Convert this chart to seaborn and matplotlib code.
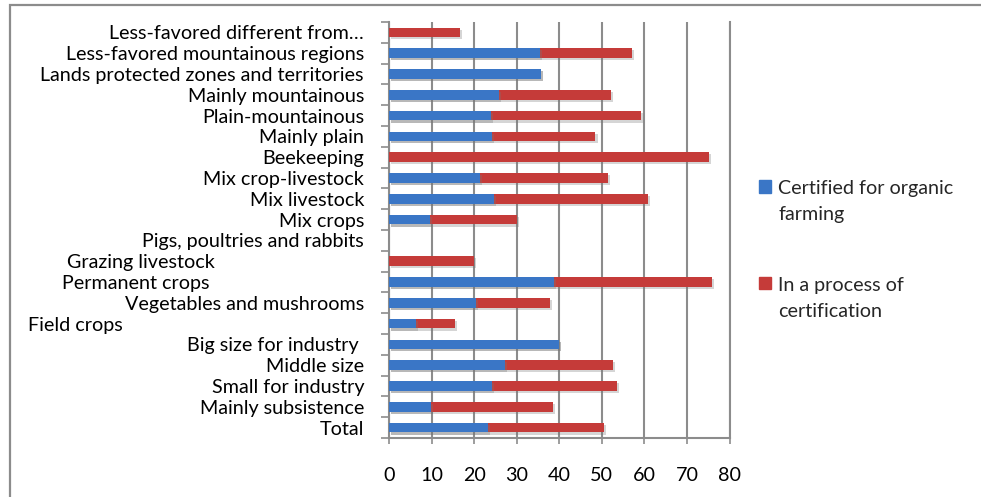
import pandas as pd
import matplotlib.pyplot as plt
import matplotlib.patches as mpatches
import matplotlib.patheffects as pe
from matplotlib.transforms import ScaledTranslation
import seaborn as sns

# Categories from top to bottom of the chart
categories = [
    "Less-favored different from…",
    "Less-favored mountainous regions",
    "Lands protected zones and territories",
    "Mainly mountainous",
    "Plain-mountainous",
    "Mainly plain",
    "Beekeeping",
    "Mix crop-livestock",
    "Mix livestock",
    "Mix crops",
    "Pigs, poultries and rabbits",
    "Grazing livestock",
    "Permanent crops",
    "Vegetables and mushrooms",
    "Field crops",
    "Big size for industry ",
    "Middle size",
    "Small for industry",
    "Mainly subsistence",
    "Total",
]
certified = [0, 35.5, 35.8, 25.9, 24.0, 24.2, 0, 21.4, 24.7, 9.6,
             0, 0, 38.7, 20.5, 6.3, 40.0, 27.3, 24.2, 9.9, 23.2]
in_process = [16.7, 21.6, 0, 26.3, 35.2, 24.3, 75.1, 30.1, 36.2, 20.5,
              0, 20.0, 37.1, 17.4, 9.2, 0, 25.3, 29.4, 28.7, 27.4]
xticks = [0, 10, 20, 30, 40, 50, 60, 70, 80]

label_certified = "Certified for organic\nfarming"
label_process = "In a process of\ncertification"
blue = "#3a76c6"
red = "#c53b39"

df = pd.DataFrame({"category": categories, "certified": certified, "process": in_process})
df["stack_end"] = df["certified"] + df["process"]

sns.set_theme(style="white")
plt.rcParams["font.family"] = ["Lato", "DejaVu Sans"]
fs = 14.2

fig = plt.figure(figsize=(9.81, 4.97), dpi=100)
ax = fig.add_axes([389 / 981, 1 - 438 / 497, (729.5 - 389) / 981, (438 - 22) / 497])

sns.barplot(data=df, x="stack_end", y="category", color=red, width=0.47,
            saturation=1, linewidth=0, ax=ax, zorder=3)
sns.barplot(data=df, x="certified", y="category", color=blue, width=0.47,
            saturation=1, linewidth=0, ax=ax, zorder=4)

for p in ax.patches:
    p.set_path_effects([pe.SimplePatchShadow(offset=(1.5, -1.5), shadow_rgbFace="#777777", alpha=0.3),
                        pe.Normal()])

ax.set_xlim(0, 80)
ax.set_ylim(len(categories) - 0.5, -0.5)
ax.set_xticks(xticks)
ax.set_yticks(range(len(categories)), labels=categories)
ax.set_yticks([i - 0.5 for i in range(len(categories) + 1)], minor=True)
ax.set_xlabel("")
ax.set_ylabel("")

ax.xaxis.grid(True, color="#8c8c8c", linewidth=1.5, zorder=0)
ax.set_axisbelow(True)
for side in ["left", "bottom", "right"]:
    ax.spines[side].set_visible(True)
    ax.spines[side].set_color("#8c8c8c")
    ax.spines[side].set_linewidth(1.5)
ax.spines["top"].set_visible(False)

ax.tick_params(axis="y", which="major", length=0, pad=18, labelsize=fs, colors="black")
ax.tick_params(axis="y", which="minor", left=True, length=6, width=1.2, color="#8c8c8c")
ax.tick_params(axis="x", which="major", bottom=True, length=4, width=1.2, color="#8c8c8c",
               pad=17, labelsize=fs, labelcolor="black")

# a few labels sit further left in the original
shifts = {"Grazing livestock": 149, "Permanent crops": 154, "Field crops": 241}
for lab in ax.get_yticklabels():
    dx = shifts.get(lab.get_text())
    if dx:
        lab.set_transform(lab.get_transform() + ScaledTranslation(-dx / 100, 0, fig.dpi_scale_trans))

handles = [mpatches.Patch(color=blue), mpatches.Patch(color=red)]
leg = fig.legend(handles, [label_certified, label_process], loc="center left",
                 bbox_to_anchor=(759 / 981, 1 - 250 / 497), frameon=False, fontsize=fs,
                 handlelength=0.62, handleheight=0.62, handletextpad=0.35, labelspacing=2.7,
                 borderpad=0, borderaxespad=0)
for t in leg.get_texts():
    t.set_linespacing(1.68)
# square next to the first line of each entry, as in the original
for column in leg._legend_handle_box.get_children():
    for item in column.get_children():
        item.align = "top"

fig.add_artist(mpatches.Rectangle((10 / 981, -0.2), 2, 1.2 - 6 / 497 + 0.002,
                                  transform=fig.transFigure, fill=False,
                                  edgecolor="#8c8c8c", linewidth=1.6))

plt.savefig("out.png", dpi=100)
